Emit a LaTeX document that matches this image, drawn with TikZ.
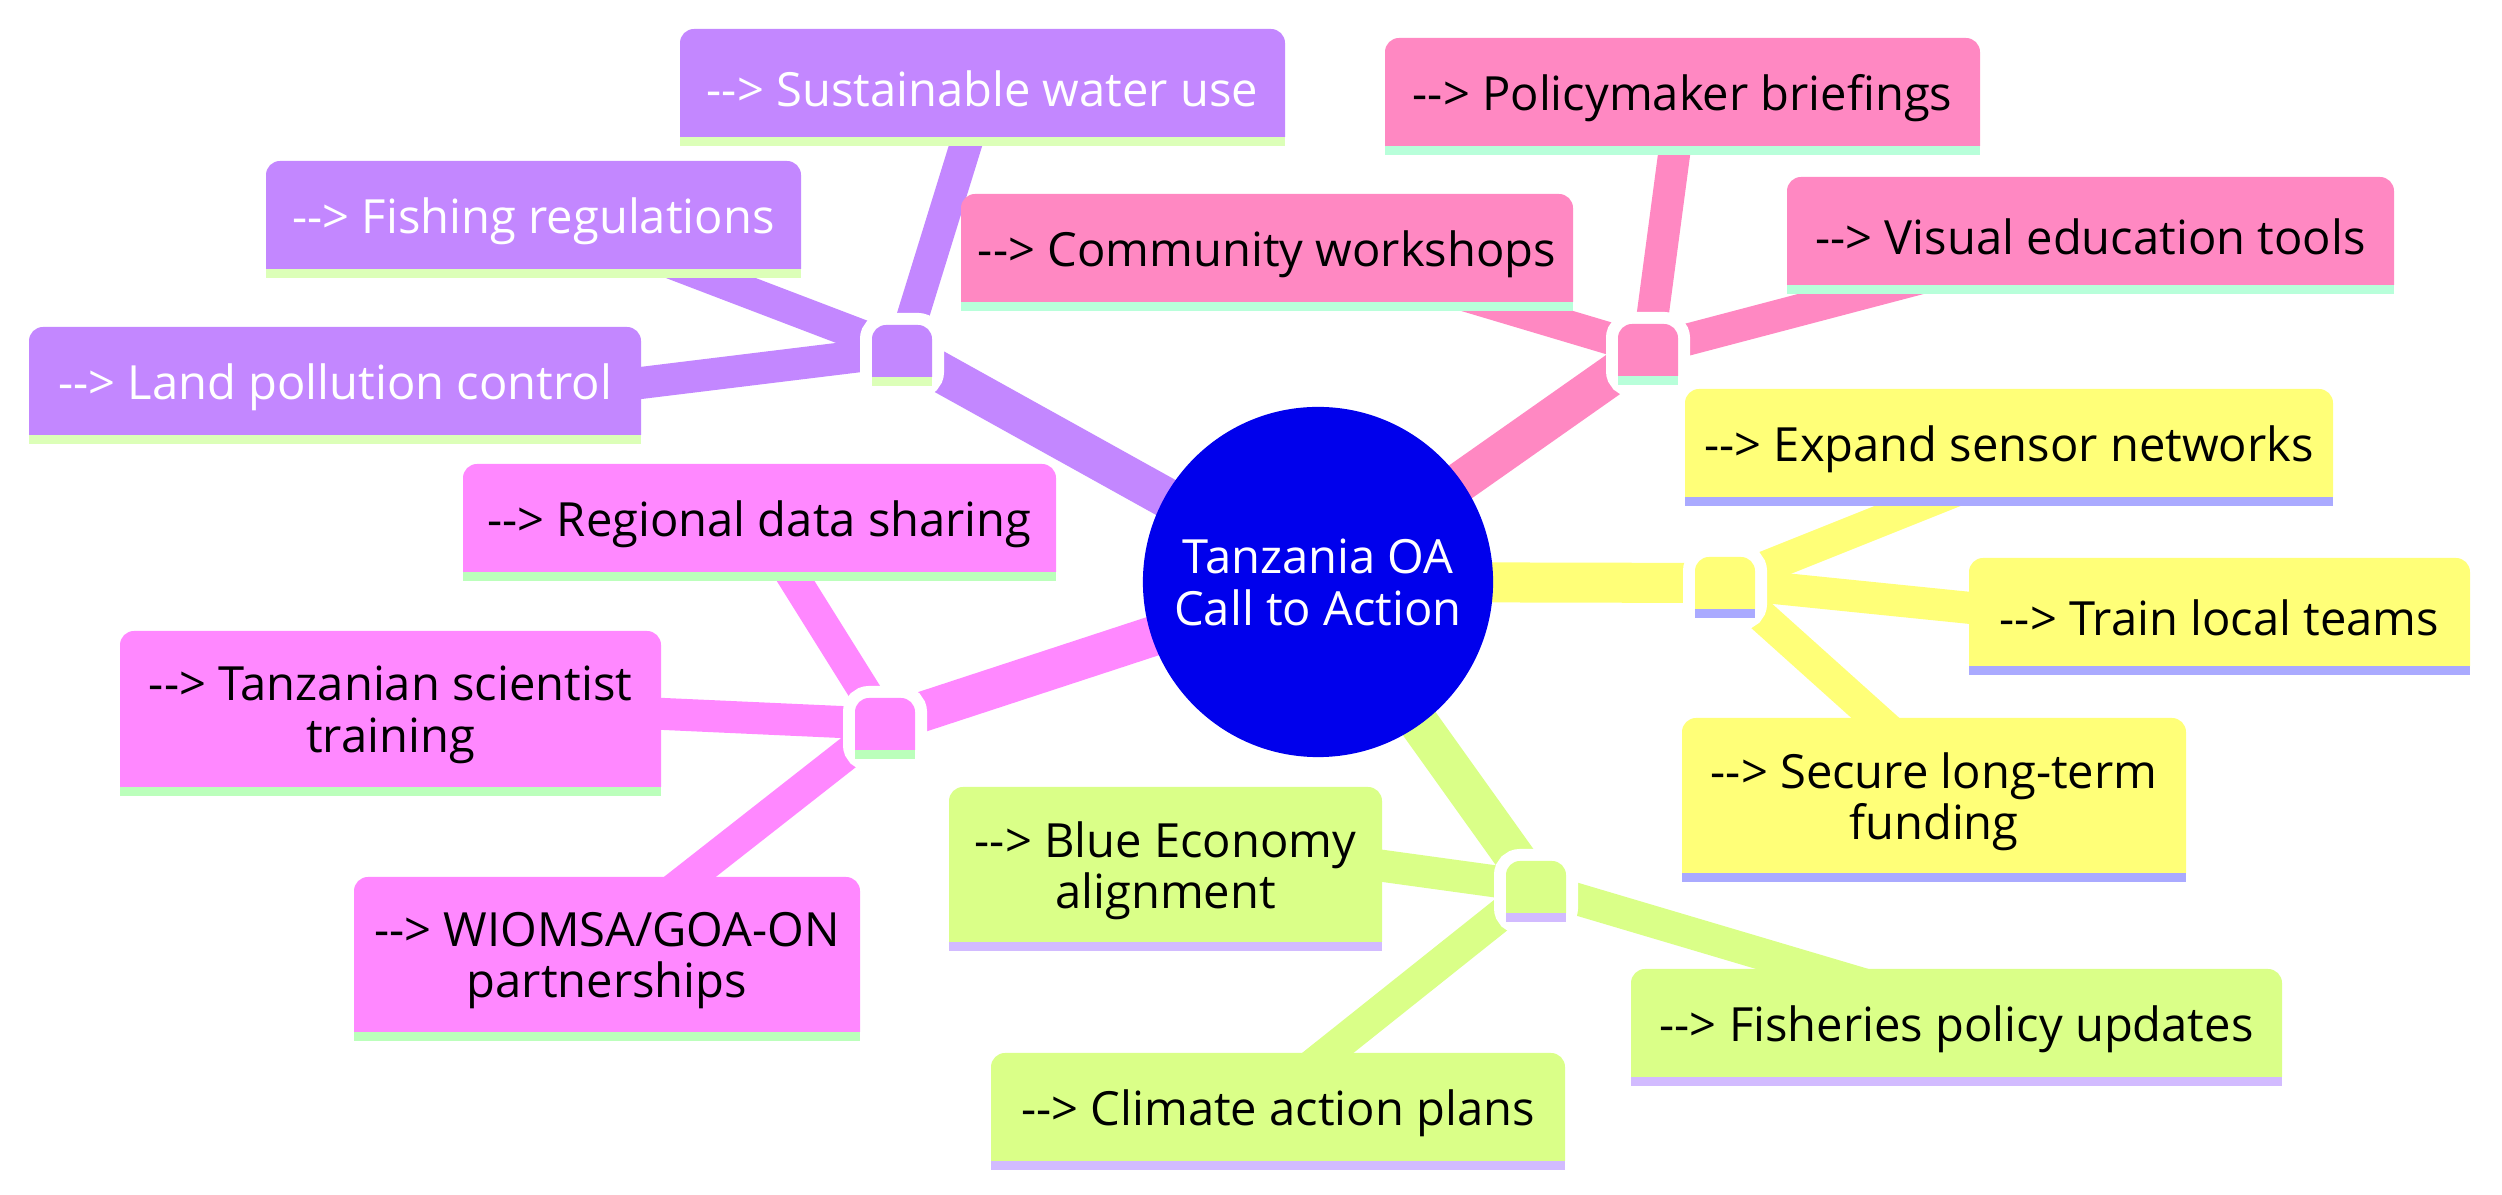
\documentclass[tikz,border=0pt]{standalone}
\usepackage{fontspec}
\setmainfont{Open Sans}
\usetikzlibrary{backgrounds}
\definecolor{rootc}{RGB}{0,0,236}
\definecolor{pfill}{RGB}{195,135,255}\definecolor{pstrip}{RGB}{220,255,184}\definecolor{ptext}{RGB}{255,255,255}
\definecolor{kfill}{RGB}{255,136,194}\definecolor{kstrip}{RGB}{184,255,218}\definecolor{ktext}{RGB}{0,0,0}
\definecolor{yfill}{RGB}{255,255,120}\definecolor{ystrip}{RGB}{170,170,255}\definecolor{ytext}{RGB}{0,0,0}
\definecolor{lfill}{RGB}{218,255,136}\definecolor{lstrip}{RGB}{210,187,255}\definecolor{ltext}{RGB}{0,0,0}
\definecolor{mfill}{RGB}{255,136,255}\definecolor{mstrip}{RGB}{187,255,187}\definecolor{mtext}{RGB}{0,0,0}
\newcommand{\arr}{-\kern0pt-\kern0pt>}
% #1 name, #2 x1, #3 y1, #4 x2, #5 y2 (fill bottom), #6 branch prefix, #7 text
\newcommand{\leafbox}[7]{%
  \fill[#6fill] (#2,#5) -- (#2,#3+14) arc[start angle=180,end angle=270,radius=14]
     -- (#4-14,#3) arc[start angle=270,end angle=360,radius=14] -- (#4,#5) -- cycle;
  \fill[#6strip] (#2,#5) rectangle (#4,#5+9);
  \node[leaftext, text=#6text] (#1) at ({(#2+#4)/2},{(#3+#5)/2}) {#7};
}
% #1 name, #2 x1, #3 y1, #4 prefix
\newcommand{\hubbox}[4]{%
  \draw[white, line width=2.4mm, rounded corners=1.4mm] (#2,#3) rectangle (#2+60,#3+61);
  \fill[#4fill] (#2,#3+52) -- (#2,#3+14) arc[start angle=180,end angle=270,radius=14]
     -- (#2+46,#3) arc[start angle=270,end angle=360,radius=14] -- (#2+60,#3+52) -- cycle;
  \fill[#4strip] (#2,#3+52) rectangle (#2+60,#3+61);
  \node[inner sep=0pt, minimum width=0.6cm, minimum height=0.52cm] (#1) at (#2+30,#3+26) {};
}
\begin{document}
\begin{tikzpicture}[x=0.01cm, y=-0.01cm,
  leaftext/.style={inner sep=0pt, align=center, yshift=-1.7pt, font=\fontsize{13.4}{14.6}\selectfont},
  mainedge/.style={line width=4mm},
  subedge/.style={line width=3.2mm}]
\useasboundingbox (0,0) rectangle (2502,1195);

% leaves
\leafbox{water}{680}{29}{1285}{137}{p}{\arr{} Sustainable water use}
\leafbox{fishing}{266}{161}{801}{269}{p}{\arr{} Fishing regulations}
\leafbox{land}{29}{327}{641}{435}{p}{\arr{} Land pollution control}

\leafbox{policy}{1385}{38}{1980}{146}{k}{\arr{} Policymaker briefings}
\leafbox{community}{961}{194}{1573}{302}{k}{\arr{} Community workshops}
\leafbox{visual}{1787}{177}{2394}{285}{k}{\arr{} Visual education tools}

\leafbox{sensor}{1685}{389}{2333}{497}{y}{\arr{} Expand sensor networks}
\leafbox{train}{1969}{558}{2470}{666}{y}{\arr{} Train local teams}
\leafbox{funding}{1682}{718}{2186}{873}{y}{\arr{} Secure long-term\\funding}

\leafbox{blue}{949}{787}{1382}{942}{l}{\arr{} Blue Economy\\alignment}
\leafbox{fisheries}{1631}{969}{2282}{1077}{l}{\arr{} Fisheries policy updates}
\leafbox{climate}{991}{1053}{1565}{1161}{l}{\arr{} Climate action plans}

\leafbox{regional}{463}{464}{1056}{572}{m}{\arr{} Regional data sharing}
\leafbox{tanz}{120}{631}{661}{787}{m}{\arr{} Tanzanian scientist\\training}
\leafbox{wiomsa}{354}{877}{860}{1032}{m}{\arr{} WIOMSA/GOA-ON\\partnerships}

% hubs
\hubbox{hubP}{872}{325}{p}
\hubbox{hubK}{1618}{324}{k}
\hubbox{hubY}{1695}{557}{y}
\hubbox{hubL}{1506}{861}{l}
\hubbox{hubM}{855}{698}{m}

% root
\node[circle, fill=rootc, minimum size=3.5cm, inner sep=0pt, text=white, align=center,
      font=\fontsize{13.4}{14.8}\selectfont] (root) at (1318,582) {Tanzania OA\\Call to Action};

% edge ends inside the leaf boxes
\coordinate (land-in) at (600,388);
\coordinate (fishing-in) at (640,251);
\coordinate (water-in) at (975,115);
\coordinate (policy-in) at (1678,125);
\coordinate (visual-in) at (1990,260);
\coordinate (community-in) at (1420,282);
\coordinate (sensor-in) at (2000,473);
\coordinate (train-in) at (2010,612);
\coordinate (funding-in) at (1930,767);
\coordinate (blue-in) at (1340,860);
\coordinate (climate-in) at (1280,1091);
\coordinate (fisheries-in) at (1900,995);
\coordinate (regional-in) at (770,540);
\coordinate (tanz-in) at (620,712);
\coordinate (wiomsa-in) at (640,916);

\begin{pgfonlayer}{background}
\draw[mainedge, pfill] (root.center) -- (hubP.center);
\draw[mainedge, kfill] (root.center) -- (hubK.center);
\draw[mainedge, yfill] (root.center) -- (hubY.center);
\draw[mainedge, lfill] (root.center) -- (hubL.center);
\draw[mainedge, mfill] (root.center) -- (hubM.center);
\draw[subedge, pfill] (hubP.center) -- (land-in);
\draw[subedge, pfill] (hubP.center) -- (fishing-in);
\draw[subedge, pfill] (hubP.center) -- (water-in);
\draw[subedge, kfill] (hubK.center) -- (policy-in);
\draw[subedge, kfill] (hubK.center) -- (visual-in);
\draw[subedge, kfill] (hubK.center) -- (community-in);
\draw[subedge, yfill] (hubY.center) -- (sensor-in);
\draw[subedge, yfill] (hubY.center) -- (train-in);
\draw[subedge, yfill] (hubY.center) -- (funding-in);
\draw[subedge, lfill] (hubL.center) -- (blue-in);
\draw[subedge, lfill] (hubL.center) -- (climate-in);
\draw[subedge, lfill] (hubL.center) -- (fisheries-in);
\draw[subedge, mfill] (hubM.center) -- (regional-in);
\draw[subedge, mfill] (hubM.center) -- (tanz-in);
\draw[subedge, mfill] (hubM.center) -- (wiomsa-in);
\end{pgfonlayer}
\end{tikzpicture}
\end{document}
